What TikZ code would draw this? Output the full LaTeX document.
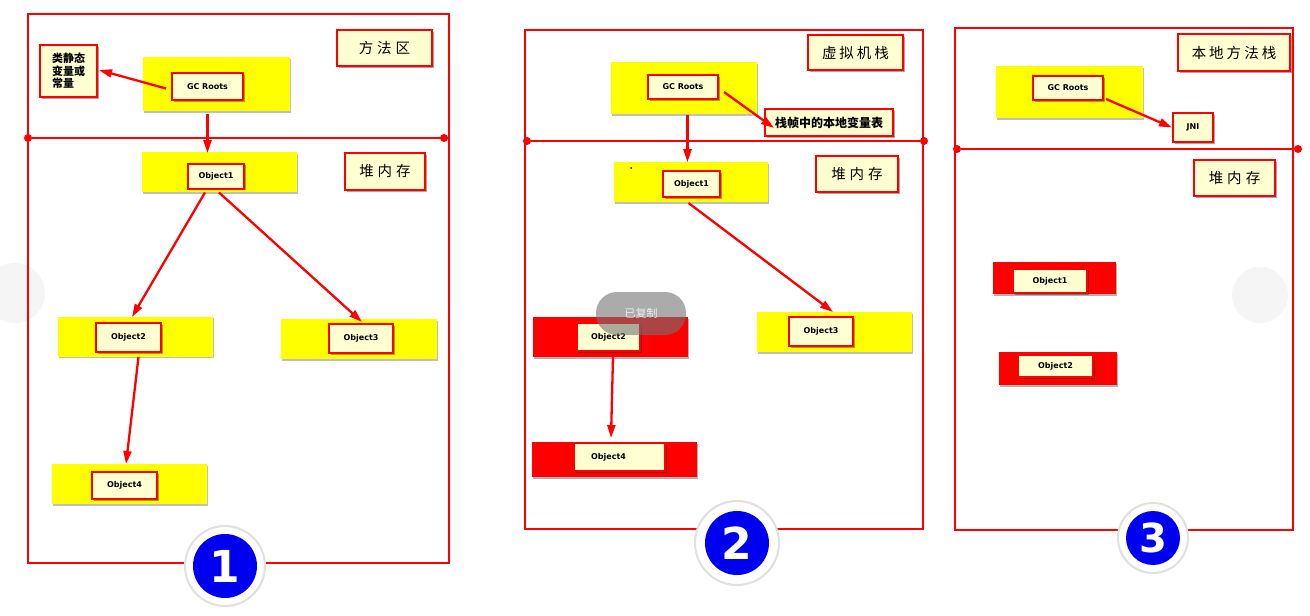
\documentclass[tikz,border=0pt]{standalone}
\usepackage{fontspec}
\newfontfamily\cjk{Noto Sans CJK SC}
\newfontfamily\lat{DejaVu Sans}
\usetikzlibrary{arrows.meta,calc,shadows}
\definecolor{cream}{HTML}{FFFFD2}
\definecolor{ired}{HTML}{FF0000}
\definecolor{iyel}{HTML}{FFFF00}
\definecolor{iblue}{HTML}{0000F0}
\begin{document}
\begin{tikzpicture}[x=1pt,y=-1pt,
 sz/.style 2 args={minimum width=#1, minimum height=#2},
 frameline/.style={draw=ired, line width=2.8pt},
 ybg/.style={fill=iyel, draw=none, inner sep=0pt, drop shadow={shadow xshift=1pt,shadow yshift=-1.5pt,fill=black,opacity=0.25}},
 rbg/.style={fill=ired, draw=none, inner sep=0pt, drop shadow={shadow xshift=1pt,shadow yshift=-1.5pt,fill=black,opacity=0.3}},
 obox/.style={draw=ired, line width=2pt, fill=cream, inner sep=0pt, font=\lat\bfseries\fontsize{8}{9}\selectfont, drop shadow={shadow xshift=1.5pt,shadow yshift=-1.5pt,fill=black,opacity=0.35}},
 lbox/.style={obox, font=\cjk\fontsize{14.5}{16}\selectfont},
 cbox/.style={obox, font=\cjk\bfseries\fontsize{11}{12.5}\selectfont, align=left},
 arr/.style={draw=ired, line width=2.3pt, -{Triangle[length=13pt,width=8pt]}},
 dotn/.style={circle, fill=ired, inner sep=0pt, minimum size=8pt},
 ring/.style={circle, fill=white, draw=black!12, line width=2pt, inner sep=0pt},
 bnum/.style={circle, fill=iblue, text=white, inner sep=0pt, font=\lat\bfseries\fontsize{44}{44}\selectfont},
]
\useasboundingbox (0,0) rectangle (1310,616);
\fill[white] (0,0) rectangle (1310,616);
% faint carousel buttons
\fill[black!4] (15,293) circle (30);
\fill[black!4] (1260,295) circle (28);

% ================= Panel 1 =================
\draw[frameline] (28,14) rectangle (449,563);
\node[dotn] (d1a) at (28,138) {};
\node[dotn] (d1b) at (444,138) {};
\draw[frameline] (d1a) -- (449,138);
\node[lbox, sz={95}{36}] (lab1) at (384.5,48) {方\hspace{4pt}法\hspace{4pt}区};
\node[lbox, sz={80}{37}] (heap1) at (385,171.5) {堆\hspace{4pt}内\hspace{4pt}存};
\node[cbox, sz={57}{52}] (cls) at (68.5,71) {类静态\\变量或\\常量};
\node[ybg, sz={147}{54}] (y1gc) at (216.5,84) {};
\node[obox, sz={71}{27}] (gc1) at (207.5,86.5) {GC Roots};
\node[ybg, sz={155}{40}] (y1o1) at (219.5,172) {};
\node[obox, sz={56}{25}] (o1) at (216,176) {Object1};
\node[ybg, sz={155}{40}] (y1o2) at (135,336.5) {};
\node[obox, sz={65}{29}] (o2) at (128.5,337.5) {Object2};
\node[ybg, sz={156}{40}] (y1o3) at (359,339) {};
\node[obox, sz={64}{29}] (o3) at (361,338.5) {Object3};
\node[ybg, sz={155}{40}] (y1o4) at (129.5,484) {};
\node[obox, sz={65}{27}] (o4) at (124.5,485.5) {Object4};
\draw[arr] ($(gc1.west)+(-5,2)$) -- ($(cls.east)+(1,-1)$);
\draw[arr] ($(gc1.south)+(0,13)$) -- ($(gc1.south)+(0,52)$);
\draw[arr] ($(o1.south)+(-11,3)$) -- ($(o2.north)+(3.5,-5)$);
\draw[arr] ($(o1.south)+(3,3)$) -- ($(o3.north)+(1,-1)$);
\draw[arr] ($(o2.south)+(10,4)$) -- ($(o4.north)+(1.5,-7)$);
\node[ring, minimum size=80pt] (r1) at (225,566) {};
\node[bnum, minimum size=64pt] (n1) at (r1) {1};

% ================= Panel 2 =================
\draw[frameline] (525,30) rectangle (923,529);
\node[dotn] (d2a) at (527,141) {};
\node[dotn] (d2b) at (924,141) {};
\draw[frameline] (d2a) -- (d2b);
\node[lbox, sz={95}{35}] (lab2) at (855.5,52.5) {虚\hspace{3pt}拟\hspace{3pt}机\hspace{3pt}栈};
\node[lbox, sz={82}{36}] (heap2) at (857,174) {堆\hspace{4pt}内\hspace{4pt}存};
\node[ybg, sz={146}{52}] (y2gc) at (684,88) {};
\node[obox, sz={70}{24}] (gc2) at (683,87) {GC Roots};
\node[cbox, font=\cjk\bfseries\fontsize{12}{13}\selectfont, sz={128}{27}] (frm) at (829,122.5) {栈帧中的本地变量表};
\node[ybg, sz={154}{40}] (y2o1) at (691,182) {};
\node[obox, sz={57}{26}] (o21) at (691.5,184) {Object1};
\fill[black] (631,168) circle (1);
\node[ybg, sz={155}{40}] (y2o3) at (834.5,332) {};
\node[obox, sz={64}{29}] (o23) at (821,331.5) {Object3};
\node[rbg, sz={155}{40}] (y2o2) at (610.5,337) {};
\node[obox, sz={63}{28}] (o22) at (608.5,337) {Object2};
\node[rbg, sz={165}{35}] (y2o4) at (614.5,459.5) {};
\node[obox, sz={91}{28}] (o24) at (619.5,457) {\hspace{-22pt}Object4};
\draw[arr] ($(gc2.east)+(5,5)$) -- ($(frm.west)+(10,5.5)$);
\draw[arr] ($(y2gc.south)+(3.5,1)$) -- ($(y2gc.south)+(3.5,48)$);
\draw[arr] ($(o21.south)+(-3,5)$) -- ($(o23.north)+(12,-4)$);
\draw[arr] ($(o22.south)+(4.5,5)$) -- ($(o24.north)+(-8.5,-4)$);
\node[ring, minimum size=84pt] (r2) at (737,543) {};
\node[bnum, minimum size=64pt] (n2) at (r2) {2};
% copied toast
\node[fill=black!55, fill opacity=0.6, rounded corners=21pt, sz={90}{43}, text=white!85, text opacity=0.8, font=\cjk\fontsize{11}{12}\selectfont] (toast) at (641,313.5) {已复制};

% ================= Panel 3 =================
\draw[frameline] (955,28) rectangle (1293,530);
\node[dotn] (d3a) at (957,149) {};
\node[dotn] (d3b) at (1298,149) {};
\draw[frameline] (d3a) -- (d3b);
\node[lbox, sz={112}{37}] (lab3) at (1234,52.5) {本\hspace{3pt}地\hspace{3pt}方\hspace{3pt}法\hspace{3pt}栈};
\node[lbox, sz={81}{36}] (heap3) at (1234.5,178) {堆\hspace{4pt}内\hspace{4pt}存};
\node[ybg, sz={147}{52}] (y3gc) at (1069.5,92) {};
\node[obox, sz={70}{24}] (gc3) at (1068,88) {GC Roots};
\node[obox, sz={40}{29}] (jni) at (1193,127.5) {JNI};
\draw[arr] ($(gc3.south east)+(2,-2)$) -- (jni.west);
\node[rbg, sz={123}{32}] (y3o1) at (1054.5,278) {};
\node[obox, sz={74}{24}] (o31) at (1050,281) {Object1};
\node[rbg, sz={118}{33}] (y3o2) at (1058,368.5) {};
\node[obox, sz={75}{22}] (o32) at (1055.5,366) {Object2};
\node[ring, minimum size=70pt] (r3) at (1153,538) {};
\node[bnum, minimum size=54pt, font=\lat\bfseries\fontsize{40}{40}\selectfont] (n3) at (r3) {3};
\end{tikzpicture}
\end{document}
